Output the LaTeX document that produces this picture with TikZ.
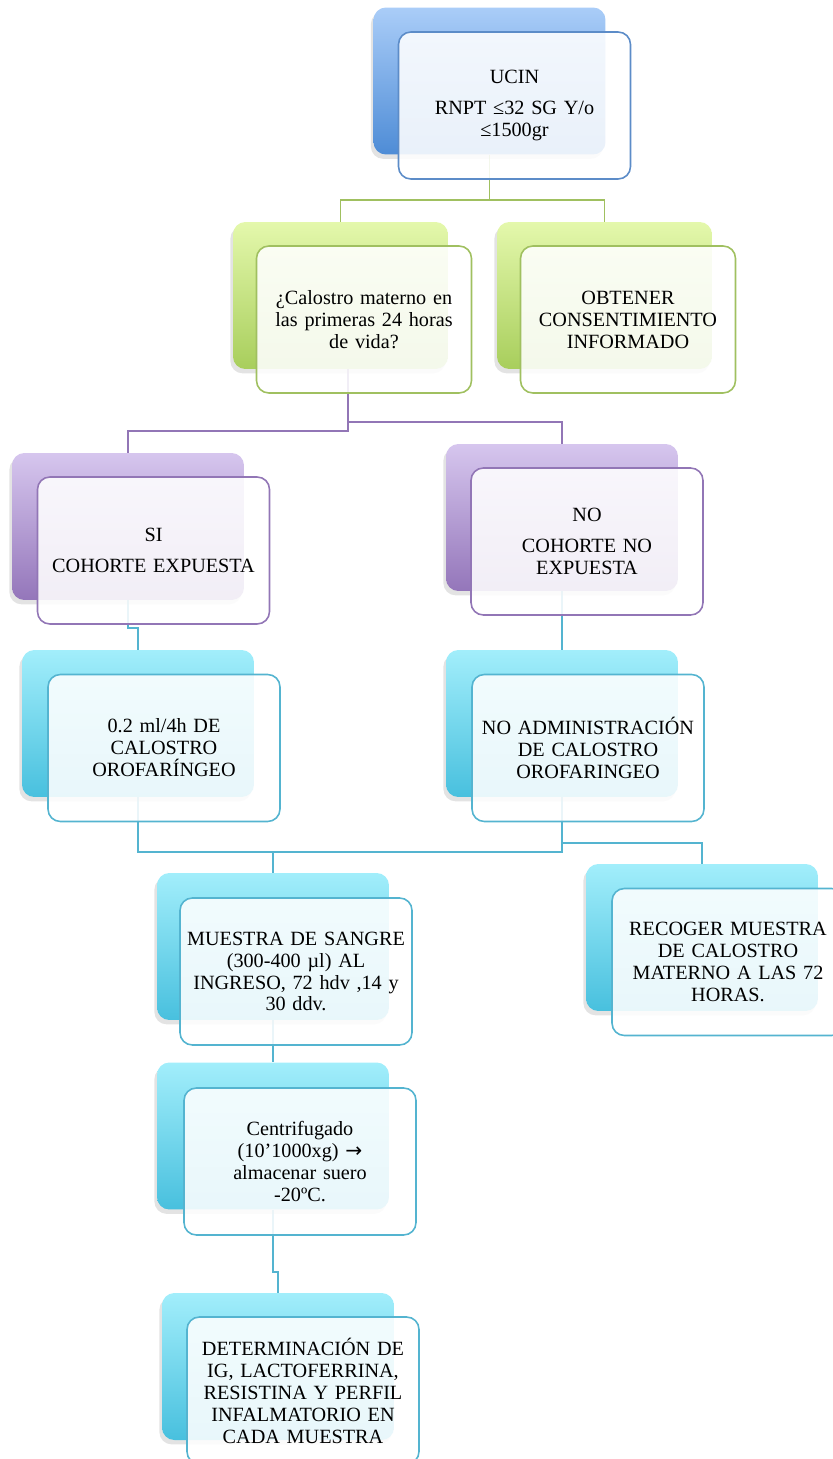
\documentclass[tikz,border=0pt]{standalone}
\usepackage{fontspec}
\setmainfont{Liberation Serif}
\newfontfamily\flecha{DejaVu Sans}
\usetikzlibrary{shadows}

\definecolor{azulA}{RGB}{170,205,248}
\definecolor{azulB}{RGB}{78,140,214}
\definecolor{azulL}{RGB}{92,140,200}
\definecolor{verdeA}{RGB}{228,248,172}
\definecolor{verdeB}{RGB}{168,206,92}
\definecolor{verdeL}{RGB}{160,192,96}
\definecolor{moradoA}{RGB}{214,198,238}
\definecolor{moradoB}{RGB}{148,118,186}
\definecolor{moradoL}{RGB}{146,118,182}
\definecolor{celesteA}{RGB}{162,238,251}
\definecolor{celesteB}{RGB}{72,192,222}
\definecolor{celesteL}{RGB}{84,180,208}

\pgfdeclarelayer{fondo}
\pgfsetlayers{fondo,main}

\begin{document}
\begin{tikzpicture}[x=0.02cm, y=-0.02cm,
    caja/.style={rectangle, rounded corners=7pt, minimum width=4.64cm, minimum height=2.94cm, inner sep=0pt},
    atras/.style={caja, drop shadow={shadow xshift=-1.5pt, shadow yshift=-2.5pt, opacity=0.22}},
    frente/.style={caja, draw, line width=0.9pt, fill=white, fill opacity=0.88, text opacity=1,
        text width=4.6cm, align=center, font=\fontsize{11.5}{12.5}\selectfont},
    angosta/.style={minimum width=4.3cm, text width=4.2cm},
    azul/.style={top color=azulA, bottom color=azulB},
    verde/.style={top color=verdeA, bottom color=verdeB},
    morado/.style={top color=moradoA, bottom color=moradoB},
    celeste/.style={top color=celesteA, bottom color=celesteB},
    linea/.style={line width=0.9pt}]
    \useasboundingbox (0,0) rectangle (832,1459);

    % Back boxes
    \node[atras, azul] (ucinB) at (489.5,81) {};
    \node[atras, verde, angosta] (calostroB) at (340.5,295.5) {};
    \node[atras, verde, angosta] (obtenerB) at (604.5,295.5) {};
    \node[atras, morado] (siB) at (128,526.5) {};
    \node[atras, morado] (noB) at (562,517.5) {};
    \node[atras, celeste] (dosisB) at (138,723.5) {};
    \node[atras, celeste] (noadmB) at (562,723.5) {};
    \node[atras, celeste] (muestraB) at (273,946.5) {};
    \node[atras, celeste] (recogerB) at (702,937.5) {};
    \node[atras, celeste] (centrifB) at (273,1136) {};
    \node[atras, celeste] (determB) at (278,1366.5) {};

    % Front boxes
    \node[frente, draw=azulL] (ucin) at (514.5,105.5) {UCIN\\[5pt]RNPT ≤32 SG Y/o\\≤1500gr};
    \node[frente, draw=verdeL, angosta] (calostro) at (364,319.5) {¿Calostro materno en\\las primeras 24 horas\\de vida?};
    \node[frente, draw=verdeL, angosta] (obtener) at (628,319.5) {OBTENER\\CONSENTIMIENTO\\INFORMADO};
    \node[frente, draw=moradoL] (si) at (153.5,550.5) {SI\\[5pt]COHORTE EXPUESTA};
    \node[frente, draw=moradoL] (no) at (587,541.5) {NO\\[5pt]COHORTE NO\\EXPUESTA};
    \node[frente, draw=celesteL] (dosis) at (164,748) {0.2 ml/4h DE\\CALOSTRO\\OROFARÍNGEO};
    \node[frente, draw=celesteL] (noadm) at (588,748) {NO ADMINISTRACIÓN\\DE CALOSTRO\\OROFARINGEO};
    \node[frente, draw=celesteL] (muestra) at (296,971.5) {MUESTRA DE SANGRE\\(300-400 µl) AL\\INGRESO, 72 hdv ,14 y\\30 ddv.};
    \node[frente, draw=celesteL] (recoger) at (728,962) {RECOGER MUESTRA\\DE CALOSTRO\\MATERNO A LAS 72\\HORAS.};
    \node[frente, draw=celesteL] (centrif) at (300,1161.5) {Centrifugado\\(10’1000xg) {\flecha →}\\almacenar suero\\-20ºC.};
    \node[frente, draw=celesteL] (determ) at (303,1390.5) {DETERMINACIÓN DE\\IG, LACTOFERRINA,\\RESISTINA Y PERFIL\\INFALMATORIO EN\\CADA MUESTRA};

    % Bus levels
    \coordinate (bus1) at (0,200);
    \coordinate (bus2i) at (0,431);
    \coordinate (bus2d) at (0,422);
    \coordinate (bus3) at (0,628);
    \coordinate (bus4) at (0,852);
    \coordinate (bus4d) at (0,843);
    \coordinate (bus5) at (0,1272);
    \coordinate (calostroS) at (348,369);

    % Edges
    \begin{pgfonlayer}{fondo}
    \draw[linea, verdeL] (ucinB.south) -- (ucinB.south |- bus1) -| (calostroB.north);
    \draw[linea, verdeL] (ucinB.south |- bus1) -| (obtenerB.north);
    \draw[linea, moradoL] (calostroS) -- (calostroS |- bus2i) -| (siB.north);
    \draw[linea, moradoL] (calostroS |- bus2d) -| (noB.north);
    \draw[linea, celesteL] (siB.south) |- (dosisB.north |- bus3) -- (dosisB.north);
    \draw[linea, celesteL] (noB.south) -- (noadmB.north);
    \draw[linea, celesteL] (dosisB.south) |- (noadmB.south |- bus4) -- (noadmB.south);
    \draw[linea, celesteL] (noadmB.south |- bus4d) -| (recogerB.north);
    \draw[linea, celesteL] (muestraB.north |- bus4) -- (muestraB.north);
    \draw[linea, celesteL] (muestraB.south) -- (centrifB.north);
    \draw[linea, celesteL] (centrifB.south) |- (determB.north |- bus5) -- (determB.north);
    \end{pgfonlayer}
\end{tikzpicture}
\end{document}
